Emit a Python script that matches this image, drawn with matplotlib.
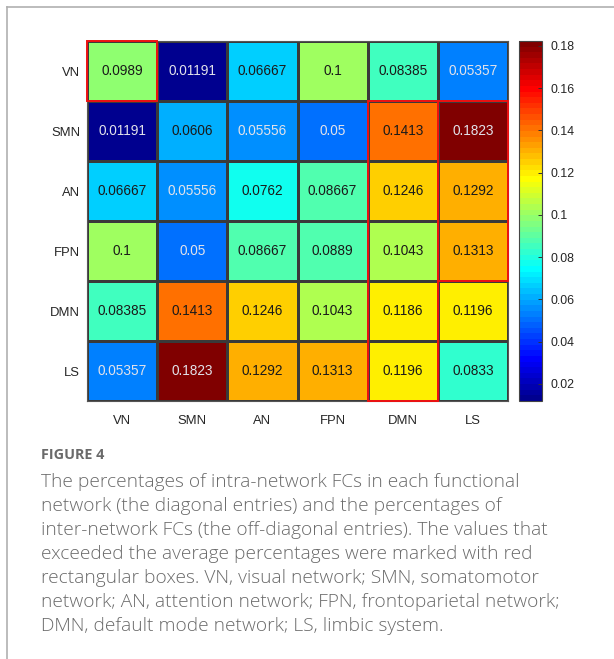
import numpy as np
import matplotlib
matplotlib.use("Agg")
import matplotlib.pyplot as plt
from matplotlib.patches import Rectangle
from matplotlib.lines import Line2D
from matplotlib.colors import Normalize, ListedColormap

networks = ["VN", "SMN", "AN", "FPN", "DMN", "LS"]

fc_vn = [0.0989, 0.01191, 0.06667, 0.1, 0.08385, 0.05357]
fc_smn = [0.01191, 0.0606, 0.05556, 0.05, 0.1413, 0.1823]
fc_an = [0.06667, 0.05556, 0.0762, 0.08667, 0.1246, 0.1292]
fc_fpn = [0.1, 0.05, 0.08667, 0.0889, 0.1043, 0.1313]
fc_dmn = [0.08385, 0.1413, 0.1246, 0.1043, 0.1186, 0.1196]
fc_ls = [0.05357, 0.1823, 0.1292, 0.1313, 0.1196, 0.0833]

# highlighted blocks: (first row, first col, n rows, n cols)
above_average = [(0, 0, 1, 1), (1, 4, 5, 1), (1, 5, 3, 1)]

cbar_ticks = [0.02, 0.04, 0.06, 0.08, 0.1, 0.12, 0.14, 0.16, 0.18]

caption_title = "FIGURE 4"
caption_lines = [
    "The percentages of intra-network FCs in each functional",
    "network (the diagonal entries) and the percentages of",
    "inter-network FCs (the off-diagonal entries). The values that",
    "exceeded the average percentages were marked with red",
    "rectangular boxes. VN, visual network; SMN, somatomotor",
    "network; AN, attention network; FPN, frontoparietal network;",
    "DMN, default mode network; LS, limbic system.",
]


def jet64(m=64):
    """Classic 64-step jet lookup table (piecewise-linear RGB ramps)."""
    n = int(np.ceil(m / 4))
    u = np.concatenate([np.arange(1, n + 1) / n, np.ones(n - 1), np.arange(n, 0, -1) / n])
    g0 = int(np.ceil(n / 2)) - (1 if m % 4 == 1 else 0)
    rgb = np.zeros((m, 3))
    idx = np.arange(len(u))
    for ch, off in ((1, g0), (0, g0 + n), (2, g0 - n)):
        rows = idx + off
        ok = (rows >= 0) & (rows < m)
        rgb[rows[ok], ch] = u[ok]
    return ListedColormap(rgb)


W, H = 614, 659
fig = plt.figure(figsize=(W / 100, H / 100), dpi=100)
fig.patch.set_facecolor("white")


def px_axes(x0, y0, x1, y1):
    return fig.add_axes([x0 / W, 1 - y1 / H, (x1 - x0) / W, (y1 - y0) / H])


# card border (top and left)
fig.add_artist(Line2D([7 / W, 1], [1 - 7 / H, 1 - 7 / H], color="#b0b0b0", lw=1.2))
fig.add_artist(Line2D([7 / W, 7 / W], [1 - 7 / H, 0], color="#b0b0b0", lw=1.2))

mat = np.array([fc_vn, fc_smn, fc_an, fc_fpn, fc_dmn, fc_ls])
n = len(networks)
cmap = jet64()
norm = Normalize(vmin=mat.min(), vmax=mat.max())

ax = px_axes(87, 41, 508, 401)
mesh = ax.pcolormesh(np.arange(n + 1), np.arange(n + 1), mat, cmap=cmap, norm=norm,
                     edgecolors="#3a3a3a", linewidth=0.8)
ax.set_xlim(0, n)
ax.set_ylim(n, 0)
ax.set_xticks(np.arange(n) + 0.5)
ax.set_yticks(np.arange(n) + 0.5)
ax.set_xticklabels(networks)
ax.set_yticklabels(networks)
ax.tick_params(length=0, labelsize=9.4, labelcolor="#262626")
for lab in ax.get_xticklabels() + ax.get_yticklabels():
    lab.set_fontfamily("Liberation Sans")
ax.tick_params(axis="x", pad=10)
ax.tick_params(axis="y", pad=5)
for s in ax.spines.values():
    s.set_color("#555555")
    s.set_linewidth(0.8)

for i in range(n):
    for j in range(n):
        v = mat[i, j]
        light = v < 0.058 or v > 0.17
        ax.text(j + 0.5, i + 0.5, f"{v:.4g}", ha="center", va="center",
                fontsize=9.8, family="Liberation Sans",
                color="#e2e2ea" if light else "#1a1a1a")

for r, c, nr, nc in above_average:
    ax.add_patch(Rectangle((c, r), nc, nr, fill=False, edgecolor="#ee1111",
                           linewidth=1.4, zorder=5, clip_on=False))

cax = px_axes(519, 41, 542, 401)
cb = fig.colorbar(mesh, cax=cax, ticks=cbar_ticks)
cb.ax.set_yticklabels([f"{t:g}" for t in cbar_ticks])
cb.ax.tick_params(direction="in", length=3, width=0.7, labelsize=8.9,
                  labelcolor="#262626", color="#333333", pad=6)
for lab in cb.ax.get_yticklabels():
    lab.set_fontfamily("Liberation Sans")
cb.outline.set_edgecolor("#444444")
cb.outline.set_linewidth(0.8)

fig.text(41 / W, 1 - 459 / H, caption_title, fontsize=10.4, family="Open Sans",
         fontweight="bold", color="#6a6a6a", va="baseline", ha="left")
for k, line in enumerate(caption_lines):
    y = 487 + k * 24
    fig.text(41 / W, 1 - y / H, line, fontsize=13.8, family="Open Sans",
             fontweight="light", color="#6a6a6a", va="baseline", ha="left")

fig.savefig("out.png", dpi=100)
